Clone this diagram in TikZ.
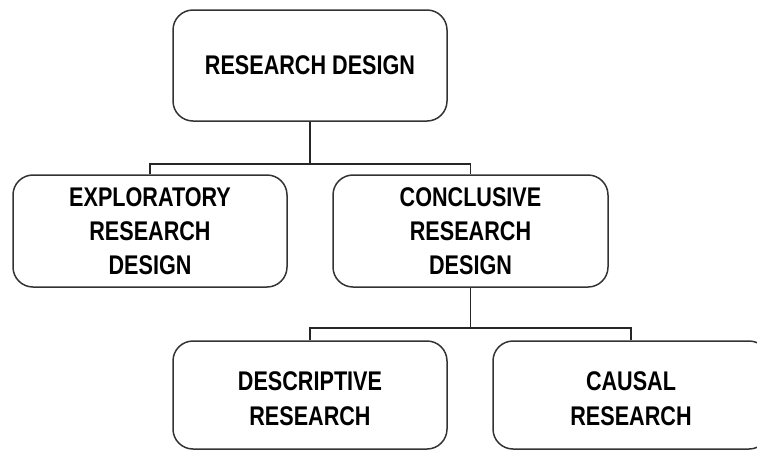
\documentclass[tikz,border=0pt]{standalone}
\usepackage{fontspec}
\setmainfont[FakeStretch=0.8]{Liberation Sans}
\begin{document}
\begin{tikzpicture}[x=1pt,y=-1pt,
  box/.style={draw=black!80, line width=1.5pt, rounded corners=20pt, inner sep=0pt, align=center,
    font=\bfseries\fontsize{27}{34.3}\selectfont},
  conn/.style={draw=black!85, line width=1.4pt}]
\useasboundingbox (0,0) rectangle (757,451);
\clip (0,0) rectangle (757,451);
\node[box, minimum width=274pt, minimum height=111pt] (top) at (310,65.5) {RESEARCH DESIGN};
\node[box, minimum width=274pt, minimum height=112pt] (left) at (150,231) {EXPLORATORY\\RESEARCH\\DESIGN};
\node[box, minimum width=275pt, minimum height=112pt] (mid) at (470.5,231) {CONCLUSIVE\\RESEARCH\\DESIGN};
\node[box, minimum width=274pt, minimum height=108pt] (bl) at (310,395) {\rule{0pt}{26pt}DESCRIPTIVE\\RESEARCH};
\node[box, minimum width=276pt, minimum height=108pt] (br) at (631,395) {\rule{0pt}{26pt}CAUSAL\\RESEARCH};
\coordinate (j1) at (310,164);
\coordinate (j2) at (470.5,328);
\draw[conn] (top.south) -- (j1);
\draw[conn] (left.north) |- (j1) -| (mid.north);
\draw[conn] (mid.south) -- (j2);
\draw[conn] (bl.north) |- (j2) -| (br.north);
\end{tikzpicture}
\end{document}
